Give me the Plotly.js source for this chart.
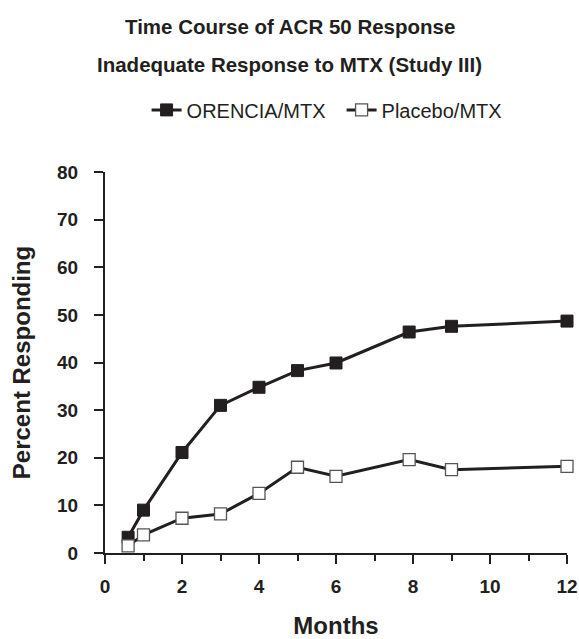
<!DOCTYPE html>
<html>
<head>
<meta charset="utf-8">
<script src="https://cdn.plot.ly/plotly-3.0.1.min.js"></script>
<style>html,body{margin:0;padding:0;background:#fff;}#chart{width:579px;height:639px;}</style>
</head>
<body>
<div id="chart"></div>
<script>
const months_orencia = [0.6, 1, 2, 3, 4, 5, 6, 7.9, 9, 12];
const orencia = [3.3, 9.0, 21.1, 31.0, 34.8, 38.3, 39.9, 46.4, 47.6, 48.7];
const months_placebo = [0.6, 1, 2, 3, 4, 5, 6, 7.9, 9, 12];
const placebo = [1.5, 3.8, 7.3, 8.2, 12.5, 18.0, 16.1, 19.6, 17.5, 18.2];
const xTicks = [0, 2, 4, 6, 8, 10, 12];
const yTicks = [0, 10, 20, 30, 40, 50, 60, 70, 80];
const titleLines = ['Time Course of ACR 50 Response', 'Inadequate Response to MTX (Study III)'];

const ink = '#231f20';
const traces = [
  {x: months_orencia, y: orencia, name: 'ORENCIA/MTX', mode: 'lines+markers', cliponaxis: false,
   line: {color: ink, width: 3}, marker: {symbol: 'square', size: 12, color: ink, line: {color: ink, width: 1}}},
  {x: months_placebo, y: placebo, name: 'Placebo/MTX', mode: 'lines+markers', cliponaxis: false,
   line: {color: ink, width: 3}, marker: {symbol: 'square', size: 12, color: '#ffffff', line: {color: '#555', width: 1.3}}}
];
const layout = {
  width: 579, height: 639,
  margin: {l: 105, r: 12, t: 172, b: 86},
  paper_bgcolor: '#fff', plot_bgcolor: '#fff',
  font: {family: 'Liberation Sans, Arial, sans-serif', color: ink},
  annotations: titleLines.map((t, i) => ({
    text: '<b>' + t + '</b>', xref: 'paper', yref: 'paper', x: 0.4, xanchor: 'center',
    y: [1.383, 1.281][i], yanchor: 'middle', showarrow: false, font: {size: 20.5, color: ink}
  })),
  showlegend: true,
  legend: {orientation: 'h', x: 0.09, xanchor: 'left', y: 1.163, yanchor: 'middle',
    font: {size: 20, color: ink}, itemwidth: 30, entrywidth: 150},
  xaxis: {range: [0, 12], tickvals: xTicks, ticktext: xTicks.map(v => '<b>' + v + '</b>'), showgrid: false, zeroline: false,
    showline: true, linecolor: ink, linewidth: 2, ticks: 'outside', ticklen: 9, tickwidth: 2, tickcolor: ink,
    tickfont: {size: 19, color: ink}, ticklabelstandoff: 6,
    minor: {tickvals: [1, 3, 5, 7, 9, 11], ticks: 'outside', ticklen: 6, tickwidth: 2, tickcolor: ink, showgrid: false},
    title: {text: '<b>Months</b>', font: {size: 24, color: ink}, standoff: 24}},
  yaxis: {range: [0, 80], tickvals: yTicks, ticktext: yTicks.map(v => '<b>' + v + '</b>'), showgrid: false, zeroline: false,
    showline: true, linecolor: ink, linewidth: 2, ticks: 'outside', ticklen: 9, tickwidth: 2, tickcolor: ink,
    tickfont: {size: 19, color: ink}, ticklabelstandoff: 12,
    title: {text: '<b>Percent Responding</b>', font: {size: 24, color: ink}, standoff: 20}}
};
Plotly.newPlot('chart', traces, layout, {displayModeBar: false, staticPlot: true});
</script>
</body>
</html>
